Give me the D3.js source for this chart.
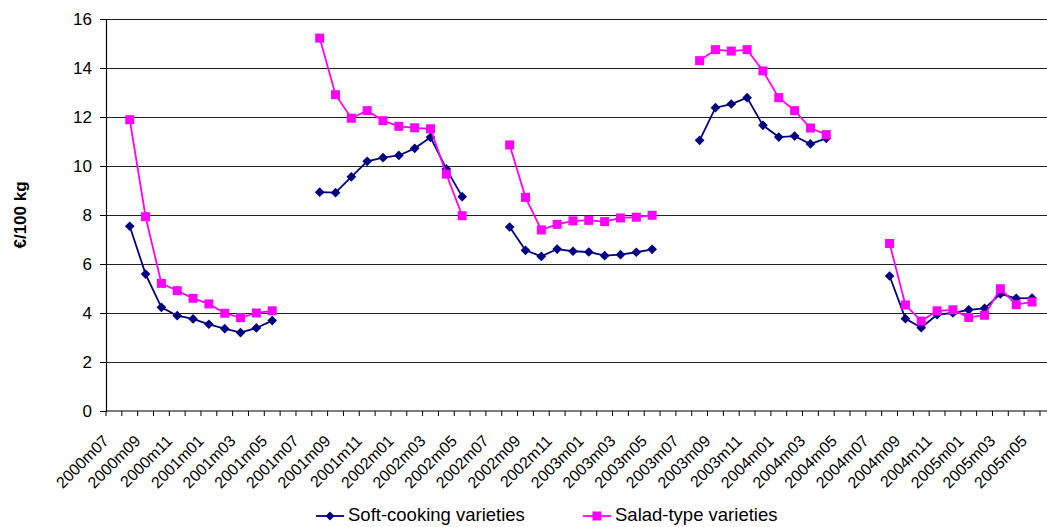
<!DOCTYPE html>
<html>
<head>
<meta charset="utf-8">
<script src="https://cdn.jsdelivr.net/npm/d3@7"></script>
<style>
  html, body { margin: 0; padding: 0; background: #fff; }
  svg { display: block; font-family: "Liberation Sans", Arial, sans-serif; }
</style>
</head>
<body>
<svg id="chart" width="1047" height="527"></svg>
<script>
const categories = [
  "2000m07","2000m08","2000m09","2000m10","2000m11","2000m12",
  "2001m01","2001m02","2001m03","2001m04","2001m05","2001m06",
  "2001m07","2001m08","2001m09","2001m10","2001m11","2001m12",
  "2002m01","2002m02","2002m03","2002m04","2002m05","2002m06",
  "2002m07","2002m08","2002m09","2002m10","2002m11","2002m12",
  "2003m01","2003m02","2003m03","2003m04","2003m05","2003m06",
  "2003m07","2003m08","2003m09","2003m10","2003m11","2003m12",
  "2004m01","2004m02","2004m03","2004m04","2004m05","2004m06",
  "2004m07","2004m08","2004m09","2004m10","2004m11","2004m12",
  "2005m01","2005m02","2005m03","2005m04","2005m05","2005m06"
];

const softCooking = [
  null, 7.54, 5.59, 4.23, 3.89, 3.76, 3.54, 3.36, 3.20, 3.39, 3.69, null,
  null, 8.93, 8.91, 9.56, 10.19, 10.34, 10.43, 10.72, 11.17, 9.88, 8.75, null,
  null, 7.51, 6.56, 6.31, 6.61, 6.52, 6.49, 6.34, 6.38, 6.48, 6.60, null,
  null, 11.05, 12.38, 12.53, 12.79, 11.66, 11.18, 11.22, 10.90, 11.13, null,
  null, null, 5.51, 3.77, 3.40, 3.93, 4.00, 4.13, 4.19, 4.78, 4.60, 4.61, null
];

const saladType = [
  null, 11.89, 7.93, 5.21, 4.91, 4.60, 4.37, 3.99, 3.81, 4.00, 4.09, null,
  null, 15.22, 12.91, 11.95, 12.26, 11.85, 11.62, 11.56, 11.52, 9.67, 7.97, null,
  null, 10.86, 8.72, 7.39, 7.62, 7.76, 7.78, 7.73, 7.88, 7.91, 7.99, null,
  null, 14.30, 14.75, 14.69, 14.75, 13.88, 12.79, 12.26, 11.55, 11.28, null,
  null, null, 6.84, 4.33, 3.67, 4.09, 4.13, 3.82, 3.91, 4.99, 4.34, 4.45, null
];

const yTicks = [0, 2, 4, 6, 8, 10, 12, 14, 16];
const seriesNames = ["Soft-cooking varieties", "Salad-type varieties"];
const seriesColors = ["#000080", "#FF00FF"];

(function () {
const svg = d3.select("#chart");
const mLeft = 106, mTop = 19, mBottom = 411;
const step = 15.83;
const mRight = mLeft + step * categories.length;

const x = d3.scaleBand().domain(categories).range([mLeft, mRight]).padding(0);
const y = d3.scaleLinear().domain([0, 16]).range([mBottom, mTop]);

// gridlines
svg.append("g")
  .selectAll("line")
  .data(yTicks.filter(t => t > 0))
  .join("line")
  .attr("x1", mLeft).attr("x2", mRight)
  .attr("y1", d => Math.round(y(d)) + 0.5).attr("y2", d => Math.round(y(d)) + 0.5)
  .attr("stroke", "#222").attr("stroke-width", 1.2);

// y axis
const yAxis = svg.append("g")
  .attr("transform", `translate(${mLeft},0)`)
  .call(d3.axisLeft(y).tickValues(yTicks).tickSize(6).tickPadding(8).tickFormat(d3.format("d")));
yAxis.select(".domain").attr("stroke", "#000").attr("stroke-width", 1.2);
yAxis.selectAll(".tick line").attr("stroke", "#000");
yAxis.selectAll("text").attr("font-size", "17px").attr("fill", "#000")
  .attr("font-family", "Liberation Sans, Arial, sans-serif");

// x axis
const xAxis = svg.append("g").attr("transform", `translate(0,${mBottom})`);
xAxis.append("line")
  .attr("x1", mLeft).attr("x2", mRight).attr("y1", 0).attr("y2", 0)
  .attr("stroke", "#000").attr("stroke-width", 1.2);
xAxis.selectAll("line.tk")
  .data(categories)
  .join("line").attr("class", "tk")
  .attr("x1", d => x(d)).attr("x2", d => x(d))
  .attr("y1", 0).attr("y2", 5)
  .attr("stroke", "#000");

const labelCats = categories.filter((c, i) => i % 2 === 0);
xAxis.selectAll("text.lbl")
  .data(labelCats)
  .join("text").attr("class", "lbl")
  .attr("transform", d => `translate(${x(d) + x.bandwidth() / 2 - 8},${27}) rotate(-45)`)
  .attr("text-anchor", "end")
  .attr("dy", "0.35em")
  .attr("font-size", "16px")
  .attr("fill", "#000")
  .text(d => d);

// y axis title
svg.append("text")
  .attr("transform", `translate(26,${(mTop + mBottom) / 2}) rotate(-90)`)
  .attr("text-anchor", "middle")
  .attr("font-size", "17px")
  .attr("font-weight", "bold")
  .text("€/100 kg");

// lines
const allSeries = [softCooking, saladType];
const lineGen = d3.line()
  .defined(d => d.v != null)
  .x(d => x(d.c) + x.bandwidth() / 2)
  .y(d => y(d.v));

allSeries.forEach((s, si) => {
  const pts = categories.map((c, i) => ({ c, v: s[i] }));
  svg.append("path")
    .datum(pts)
    .attr("fill", "none")
    .attr("stroke", seriesColors[si])
    .attr("stroke-width", 1.8)
    .attr("d", lineGen);
  const valid = pts.filter(d => d.v != null);
  if (si === 0) {
    svg.append("g").selectAll("path")
      .data(valid).join("path")
      .attr("d", d3.symbol().type(d3.symbolDiamond2).size(60)())
      .attr("transform", d => `translate(${x(d.c) + x.bandwidth() / 2},${y(d.v)})`)
      .attr("fill", seriesColors[si]);
  } else {
    svg.append("g").selectAll("rect")
      .data(valid).join("rect")
      .attr("x", d => x(d.c) + x.bandwidth() / 2 - 4.5)
      .attr("y", d => y(d.v) - 4.5)
      .attr("width", 9).attr("height", 9)
      .attr("fill", seriesColors[si]);
  }
});

// legend
const legend = svg.append("g");
const legendItems = [
  { name: seriesNames[0], color: seriesColors[0], x0: 316 },
  { name: seriesNames[1], color: seriesColors[1], x0: 583 }
];
const ly = 516;
legendItems.forEach((it, i) => {
  legend.append("line")
    .attr("x1", it.x0).attr("x2", it.x0 + 28)
    .attr("y1", ly).attr("y2", ly)
    .attr("stroke", it.color).attr("stroke-width", 1.8);
  if (i === 0) {
    legend.append("path")
      .attr("d", d3.symbol().type(d3.symbolDiamond2).size(50)())
      .attr("transform", `translate(${it.x0 + 14},${ly})`)
      .attr("fill", it.color);
  } else {
    legend.append("rect")
      .attr("x", it.x0 + 14 - 4.5).attr("y", ly - 4.5)
      .attr("width", 9).attr("height", 9)
      .attr("fill", it.color);
  }
  legend.append("text")
    .attr("x", it.x0 + 32).attr("y", 521)
    .attr("font-size", "18.5px")
    .attr("fill", "#000")
    .text(it.name);
});
})();
</script>
</body>
</html>
